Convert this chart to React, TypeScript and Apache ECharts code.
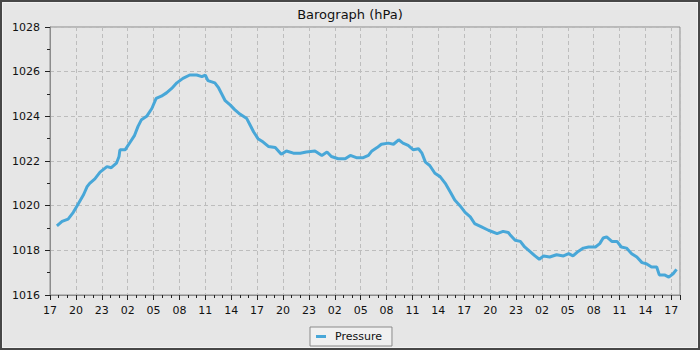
import React, { useEffect, useRef } from "react";
import * as echarts from "echarts";

const title = "Barograph (hPa)";
const seriesName = "Pressure";
const startHour = 17;
const yTicks = [1016, 1018, 1020, 1022, 1024, 1026, 1028];

// hours since 17:00 on the first day
const hours = [
  0.8, 1.4, 2.1, 2.7, 3.3, 3.9, 4.3, 4.6, 5.2, 5.8, 6.6, 7.1, 7.7, 8.0, 8.1, 8.7,
  9.3, 9.8, 10.2, 10.6, 11.2, 11.8, 12.3, 12.9, 13.5, 14.1, 14.7, 15.4, 16.2, 17.0,
  17.6, 18.0, 18.3, 19.1, 19.5, 19.9, 20.3, 20.9, 21.4, 22.0, 22.8, 23.2, 23.6, 24.1,
  24.7, 25.3, 26.1, 26.8, 27.4, 28.2, 29.0, 29.7, 30.7, 31.5, 32.1, 32.6, 33.4, 34.2,
  34.8, 35.5, 36.3, 36.9, 37.3, 37.9, 38.4, 39.2, 39.8, 40.4, 40.9, 41.5, 42.1, 42.7,
  43.1, 43.5, 44.0, 44.6, 45.2, 45.8, 46.4, 46.9, 47.5, 48.1, 48.7, 49.2, 50.0, 50.8,
  51.8, 52.5, 53.1, 53.3, 53.9, 54.5, 55.0, 55.6, 56.2, 56.7, 57.2, 57.9, 58.7, 59.5,
  60.1, 60.6, 61.2, 61.8, 62.4, 63.2, 63.7, 64.1, 64.5, 65.1, 65.7, 66.2, 66.8, 67.4,
  68.0, 68.6, 69.1, 69.7, 70.3, 70.6, 71.2, 71.7, 72.2, 72.6,
];

const pressure = [
  1019.1, 1019.3, 1019.4, 1019.7, 1020.1, 1020.5, 1020.85, 1021.0, 1021.2, 1021.5, 1021.75, 1021.7, 1021.9, 1022.2, 1022.5, 1022.5,
  1022.85, 1023.15, 1023.55, 1023.85, 1024.0, 1024.35, 1024.8, 1024.9, 1025.05, 1025.25, 1025.5, 1025.7, 1025.85, 1025.85,
  1025.78, 1025.85, 1025.6, 1025.5, 1025.3, 1025.0, 1024.7, 1024.5, 1024.3, 1024.1, 1023.9, 1023.6, 1023.3, 1023.0,
  1022.85, 1022.65, 1022.6, 1022.3, 1022.45, 1022.35, 1022.35, 1022.4, 1022.45, 1022.25, 1022.4, 1022.2, 1022.1, 1022.1,
  1022.25, 1022.15, 1022.15, 1022.25, 1022.45, 1022.6, 1022.75, 1022.8, 1022.75, 1022.95, 1022.8, 1022.7, 1022.5, 1022.55,
  1022.35, 1021.95, 1021.8, 1021.45, 1021.3, 1021.0, 1020.6, 1020.25, 1020.0, 1019.7, 1019.5, 1019.2, 1019.05, 1018.9,
  1018.75, 1018.85, 1018.8, 1018.7, 1018.45, 1018.4, 1018.15, 1017.95, 1017.75, 1017.6, 1017.75, 1017.7, 1017.8, 1017.75,
  1017.85, 1017.75, 1017.95, 1018.1, 1018.15, 1018.15, 1018.3, 1018.55, 1018.6, 1018.4, 1018.4, 1018.15, 1018.1, 1017.85,
  1017.7, 1017.45, 1017.4, 1017.25, 1017.25, 1016.9, 1016.9, 1016.8, 1016.95, 1017.15,
];

const FONT = "DejaVu Sans";

export default function App() {
  const ref = useRef<HTMLDivElement>(null);
  useEffect(() => {
    if (!ref.current) return;
    const chart = echarts.init(ref.current, null, { renderer: "svg" });
    const data = hours.map((h, i) => [h, pressure[i]]);
    chart.setOption({
      animation: false,
      backgroundColor: "#e6e6e6",
      textStyle: { fontFamily: FONT },
      title: {
        text: title,
        left: "center",
        top: 3,
        textStyle: { fontFamily: FONT, fontSize: 13, fontWeight: "normal", color: "#111" },
      },
      graphic: [
        {
          type: "rect",
          shape: { x: 1, y: 1, width: 698, height: 348 },
          style: { fill: "none", stroke: "#474747", lineWidth: 2 },
          silent: true,
        },
        {
          type: "rect",
          shape: { x: 2.5, y: 2.5, width: 695, height: 345 },
          style: { fill: "none", stroke: "#f2f2f2", lineWidth: 1 },
          silent: true,
        },
      ],
      legend: {
        data: [{ name: seriesName, icon: "rect" }],
        left: 310,
        top: 327,
        backgroundColor: "#f0f0f0",
        borderColor: "#8a8a8a",
        borderWidth: 1,
        borderRadius: 0,
        padding: [4, 10, 4, 6],
        itemWidth: 10,
        itemHeight: 3,
        itemGap: 8,
        itemStyle: { color: "#48a7d8" },
        lineStyle: { width: 0 },
        textStyle: { fontFamily: FONT, fontSize: 11, color: "#111", padding: [0, 0, 0, 4] },
      },
      grid: {
        left: 50,
        right: 20,
        top: 27,
        bottom: 55,
        show: true,
        borderColor: "#8c8c8c",
        borderWidth: 1,
        backgroundColor: "transparent",
      },
      xAxis: {
        type: "value",
        min: 0,
        max: 73,
        interval: 3,
        axisLine: { show: true, lineStyle: { color: "#8c8c8c", width: 1 } },
        axisTick: { show: true, length: 5, lineStyle: { color: "#222" } },
        minorTick: { show: true, splitNumber: 3, length: 3, lineStyle: { color: "#222" } },
        axisLabel: {
          margin: 10,
          fontFamily: FONT,
          fontSize: 11,
          color: "#111",
          showMaxLabel: false,
          formatter: (v: number) => {
            if (Math.abs(v % 3) > 1e-6) return "";
            const h = (startHour + Math.round(v)) % 24;
            return h < 10 ? "0" + h : String(h);
          },
        },
        splitLine: { show: true, lineStyle: { color: "#bdbdbd", type: [4, 3], width: 1 } },
      },
      yAxis: {
        type: "value",
        min: yTicks[0],
        max: yTicks[yTicks.length - 1],
        interval: 2,
        axisLine: { show: true, lineStyle: { color: "#8c8c8c", width: 1 } },
        axisTick: { show: true, length: 5, lineStyle: { color: "#222" } },
        minorTick: { show: true, splitNumber: 2, length: 3, lineStyle: { color: "#222" } },
        axisLabel: {
          margin: 10,
          fontFamily: FONT,
          fontSize: 11,
          color: "#111",
          formatter: (v: number) => String(v),
        },
        splitLine: { show: true, lineStyle: { color: "#bdbdbd", type: [4, 3], width: 1 } },
      },
      series: [
        {
          name: seriesName,
          type: "line",
          data,
          showSymbol: false,
          symbol: "none",
          lineStyle: { color: "#48a7d8", width: 3 },
          itemStyle: { color: "#48a7d8" },
        },
      ],
    });
    return () => chart.dispose();
  }, []);
  return (
    <div
      ref={ref}
      style={{ position: "absolute", left: 0, top: 0, width: 700, height: 350 }}
    />
  );
}
